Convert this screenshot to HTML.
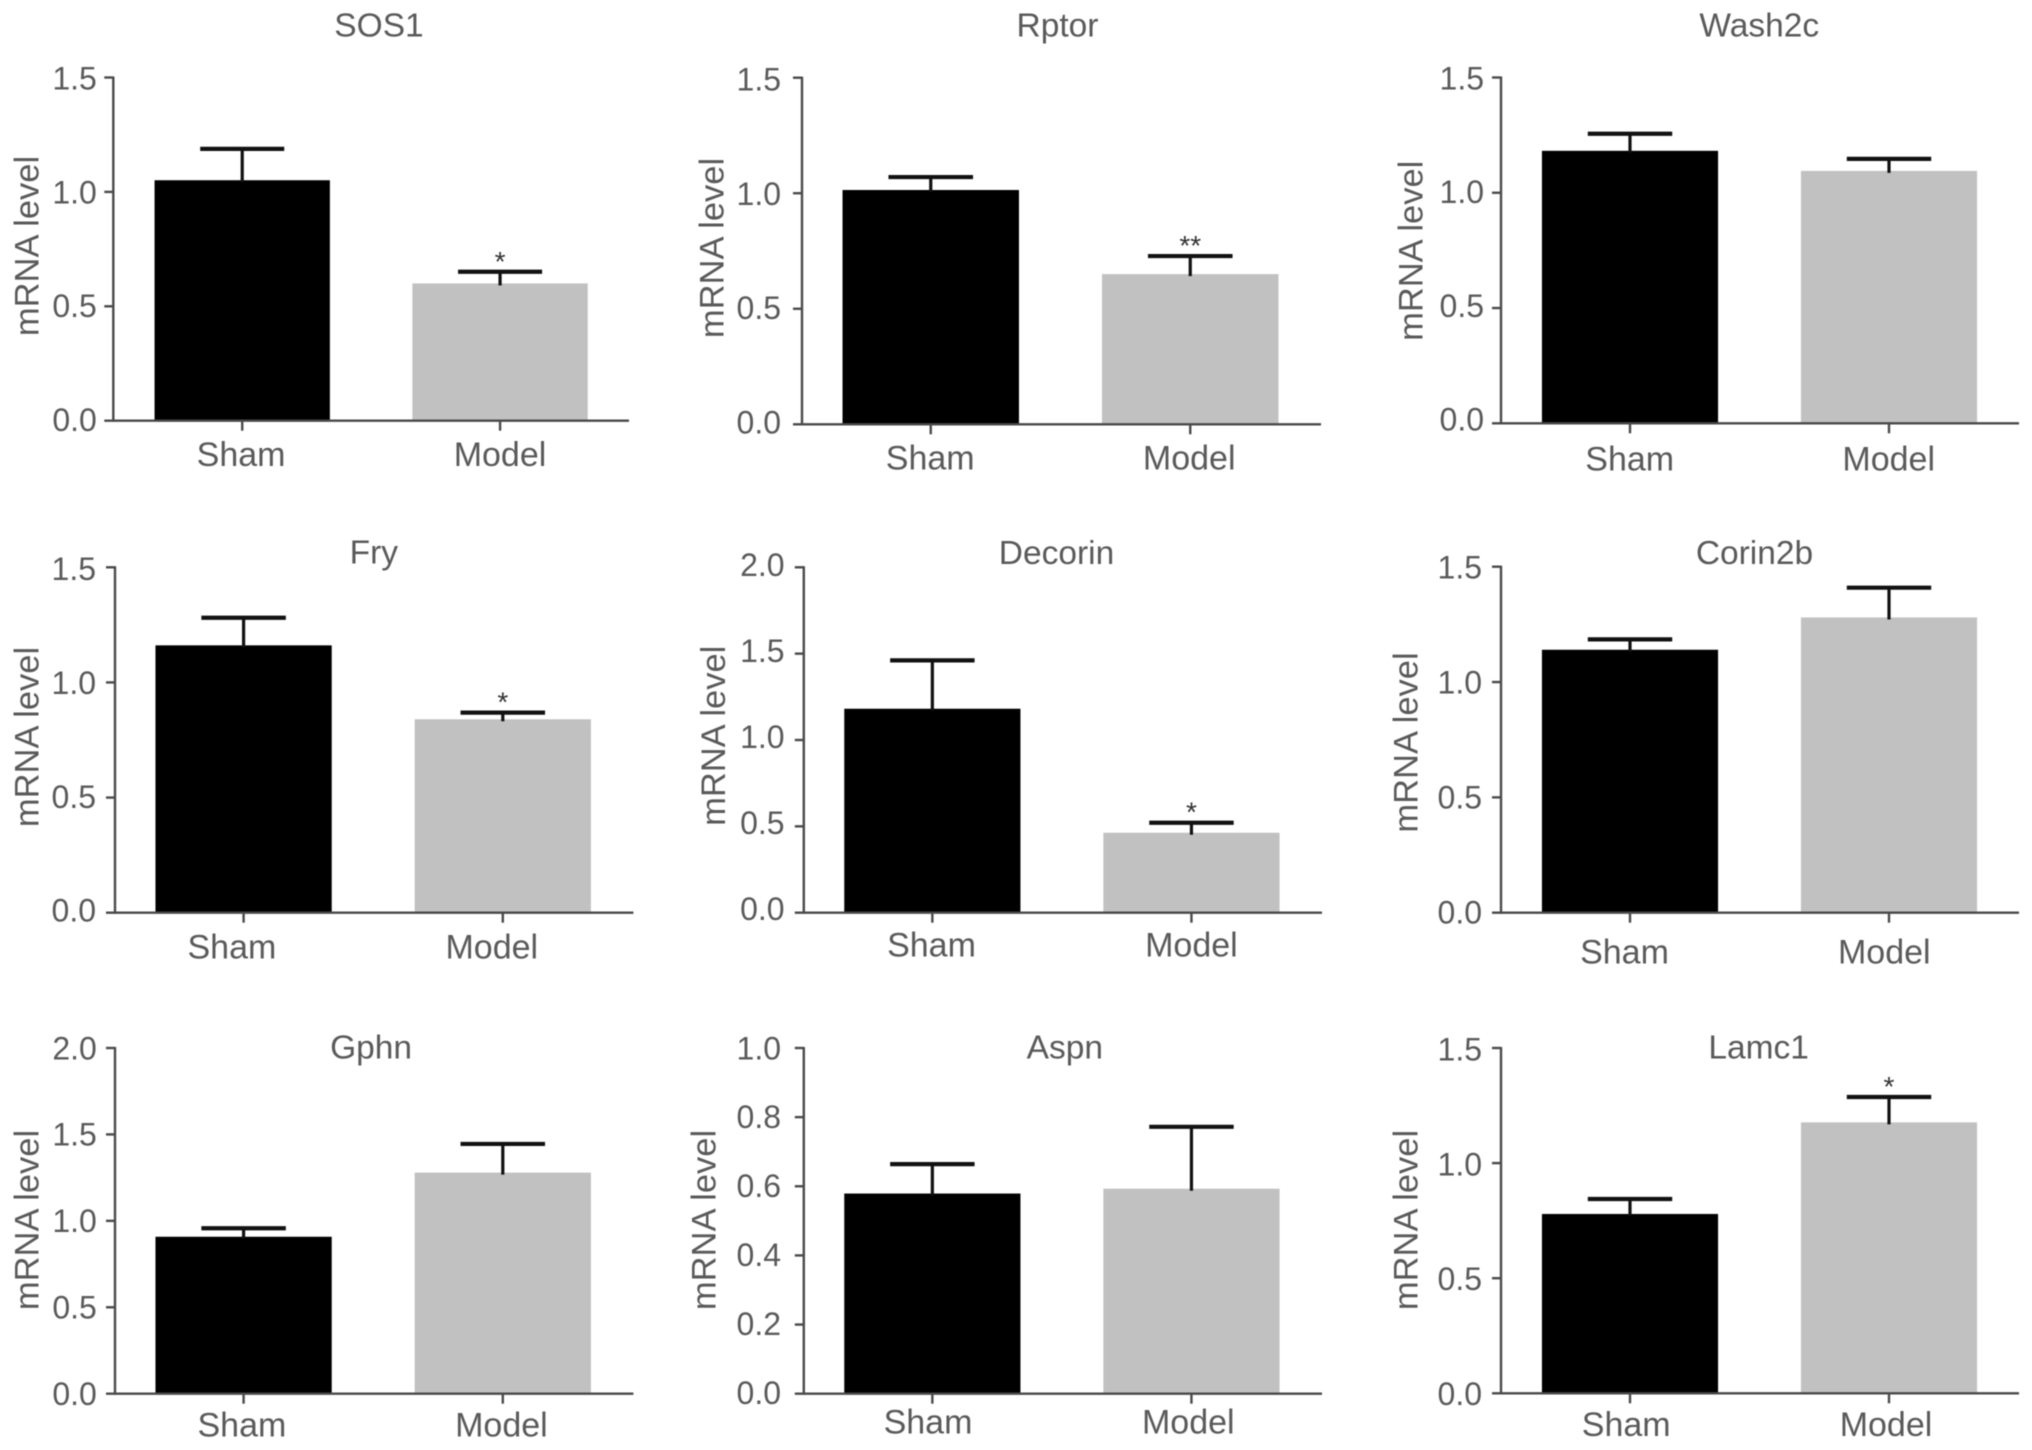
<!DOCTYPE html>
<html lang="en">
<head>
<meta charset="utf-8">
<title>mRNA level bar charts</title>
<style>
  html, body { margin: 0; padding: 0; background: #fff; }
  body { width: 2032px; height: 1450px; overflow: hidden; }
  svg { display: block; filter: blur(0.6px); }
  text { font-family: "Liberation Sans", sans-serif; fill: #5a5a5a; }
</style>
</head>
<body>
<svg id="figure" xmlns="http://www.w3.org/2000/svg" width="2032" height="1450" viewBox="0 0 2032 1450"></svg>
<script>
// ---- Chart data ----
const panelTitles = ["SOS1", "Rptor", "Wash2c", "Fry", "Decorin", "Corin2b", "Gphn", "Aspn", "Lamc1"];
const categories = ["Sham", "Model"];
const shamValues = [1.051, 1.014, 1.182, 1.161, 1.181, 1.14, 0.908, 0.579, 0.779];
const modelValues = [0.60, 0.65, 1.095, 0.84, 0.463, 1.28, 1.279, 0.593, 1.177];
const shamErrorTops = [1.188, 1.07, 1.256, 1.281, 1.461, 1.185, 0.957, 0.664, 0.844];
const modelErrorTops = [0.651, 0.728, 1.147, 0.869, 0.521, 1.409, 1.445, 0.772, 1.287];
const modelMarks = ["*", "**", "", "*", "*", "", "", "", "*"];
const yTickLabels = [
  ["0.0", "0.5", "1.0", "1.5"],
  ["0.0", "0.5", "1.0", "1.5"],
  ["0.0", "0.5", "1.0", "1.5"],
  ["0.0", "0.5", "1.0", "1.5"],
  ["0.0", "0.5", "1.0", "1.5", "2.0"],
  ["0.0", "0.5", "1.0", "1.5"],
  ["0.0", "0.5", "1.0", "1.5", "2.0"],
  ["0.0", "0.2", "0.4", "0.6", "0.8", "1.0"],
  ["0.0", "0.5", "1.0", "1.5"]
];
const yAxisTitle = "mRNA level";

// ---- Panel frames (page layout only; marks are derived through the axis functions) ----
const panelFrames = [
  {left:113.3, right:629,    shift:0,  top:77.5,  base:420.7,  tickRight:96.8,  topOff:12,   baseOff:10.3, titleX:379,    titleY:36.7,   yTitleX:38.4,   yTitleY:246,   labelX:[241.1,500],    labelY:466},
  {left:802,   right:1321,   shift:-1, top:77.7,  base:424.3,  tickRight:781,   topOff:13,   baseOff:9,    titleX:1057.5, titleY:36.7,   yTitleX:723.6,  yTitleY:248,   labelX:[930.2,1189.2], labelY:469.3},
  {left:1501,  right:2019,   shift:-0.5, top:77.5,  base:423.3,  tickRight:1484,  topOff:12,   baseOff:7.3,  titleX:1759.3, titleY:36.7,   yTitleX:1422.6, yTitleY:250.8, labelX:[1629.7,1888.7],labelY:470.7},
  {left:115,   right:633.4,  shift:-1, top:567.3, base:912.7,  tickRight:96,    topOff:12.7, baseOff:9,    titleX:373.8,  titleY:563.3,  yTitleX:38.4,   yTitleY:737,   labelX:[231.9,491.8],  labelY:958.3},
  {left:803.8, right:1322,   shift:-1, top:567.3, base:912.7,  tickRight:784.6, topOff:8.7,  baseOff:7.3,  titleX:1056.5, titleY:564,    yTitleX:725,    yTitleY:735.8, labelX:[931.5,1191.4], labelY:956.7},
  {left:1501,  right:2019,   shift:-0.5, top:566.7, base:912.7,  tickRight:1482,  topOff:11.7, baseOff:10.7, titleX:1754.5, titleY:564,    yTitleX:1417.4, yTitleY:742.5, labelX:[1624.5,1884.3],labelY:963.3},
  {left:115,   right:633.4,  shift:-1, top:1048,  base:1393.7, tickRight:96.8,  topOff:11.3, baseOff:11.3, titleX:371.1,  titleY:1058.3, yTitleX:38.4,   yTitleY:1220,  labelX:[241.9,501.4],  labelY:1436.7},
  {left:803.8, right:1322,   shift:-1, top:1048,  base:1393.7, tickRight:781,   topOff:11.3, baseOff:10.3, titleX:1064.8, titleY:1058.3, yTitleX:715.7,  yTitleY:1220,  labelX:[928,1188.3],   labelY:1433.3},
  {left:1501,  right:2019,   shift:-0.5, top:1048,  base:1393.3, tickRight:1482,  topOff:12.7, baseOff:11.7, titleX:1758.6, titleY:1058.3, yTitleX:1417.4, yTitleY:1220,  labelX:[1626.2,1886],  labelY:1436}
];

const SVG_NS = "http://www.w3.org/2000/svg";
const figure = document.getElementById("figure");

function make(parent, tag, attrs, content) {
  const el = document.createElementNS(SVG_NS, tag);
  for (const key in attrs) el.setAttribute(key, attrs[key]);
  if (content !== undefined) el.textContent = content;
  parent.appendChild(el);
  return el;
}

function yScaleFor(frame, yMax) {
  return function (value) {
    return frame.base - (value / yMax) * (frame.base - frame.top);
  };
}

function xCenterFor(frame, index) {
  return frame.left + frame.shift + (frame.right - frame.left) * (index + 0.5) / categories.length;
}

function drawPanel(p) {
  const frame = panelFrames[p];
  const ticks = yTickLabels[p];
  const yMax = parseFloat(ticks[ticks.length - 1]);
  const y = yScaleFor(frame, yMax);
  const plotWidth = frame.right - frame.left;
  const barWidth = plotWidth * 0.34;
  const capWidth = plotWidth * 0.163;
  const values = [shamValues[p], modelValues[p]];
  const errorTops = [shamErrorTops[p], modelErrorTops[p]];
  const barColors = ["#000000", "#c1c1c1"];

  const group = make(figure, "g", {});
  
  

  const title = make(group, "text", {x: frame.titleX, y: frame.titleY, "text-anchor": "middle", "font-size": 33.5}, panelTitles[p]);
  
  

  const yTitle = make(group, "text", {
    x: 0, y: 0, "text-anchor": "middle", "font-size": 34.5,
    transform: "translate(" + frame.yTitleX + " " + frame.yTitleY + ") rotate(-90)"
  }, yAxisTitle);
  
  

  categories.forEach(function (category, i) {
    const cx = xCenterFor(frame, i);
    const bar = make(group, "rect", {
      x: cx - barWidth / 2, y: y(values[i]), width: barWidth, height: frame.base - y(values[i]), fill: barColors[i]
    });
    
    

    const stem = make(group, "line", {
      x1: cx, x2: cx, y1: y(errorTops[i]), y2: y(values[i]) + 2, stroke: "#111", "stroke-width": 3.2
    });
    
    

    const cap = make(group, "line", {
      x1: cx - capWidth / 2, x2: cx + capWidth / 2, y1: y(errorTops[i]), y2: y(errorTops[i]), stroke: "#111", "stroke-width": 4.2
    });
    
    

    const xTick = make(group, "line", {
      x1: cx, x2: cx, y1: frame.base, y2: frame.base + 10, stroke: "#4a4a4a", "stroke-width": 2.4
    });
    
    

    const label = make(group, "text", {
      x: frame.labelX[i], y: frame.labelY, "text-anchor": "middle", "font-size": 34
    }, category);
    
    
  });

  if (modelMarks[p]) {
    const mark = make(group, "text", {
      x: xCenterFor(frame, 1), y: y(modelErrorTops[p]) - 1, "text-anchor": "middle", "font-size": 28
    }, modelMarks[p]);
    mark.style.fill = "#333";
    
    
  }

  const yAxis = make(group, "line", {
    x1: frame.left, x2: frame.left, y1: frame.top - 1, y2: frame.base + 1, stroke: "#4a4a4a", "stroke-width": 2.4
  });
  
  

  const xAxis = make(group, "line", {
    x1: frame.left - 9, x2: frame.right, y1: frame.base, y2: frame.base, stroke: "#4a4a4a", "stroke-width": 2.4
  });
  
  

  ticks.forEach(function (tickText) {
    const tickValue = parseFloat(tickText);
    const tickY = y(tickValue);
    const baselineOffset = frame.baseOff + (frame.topOff - frame.baseOff) * (tickValue / yMax);
    if (tickValue > 0) {
      const yTick = make(group, "line", {
        x1: frame.left - 9, x2: frame.left, y1: tickY, y2: tickY, stroke: "#4a4a4a", "stroke-width": 2.4
      });
      
      
    }
    const tickLabel = make(group, "text", {
      x: frame.tickRight, y: tickY + baselineOffset, "text-anchor": "end", "font-size": 32
    }, tickText);
    
    
  });
}

panelTitles.forEach(function (_, p) { drawPanel(p); });
</script>
</body>
</html>
